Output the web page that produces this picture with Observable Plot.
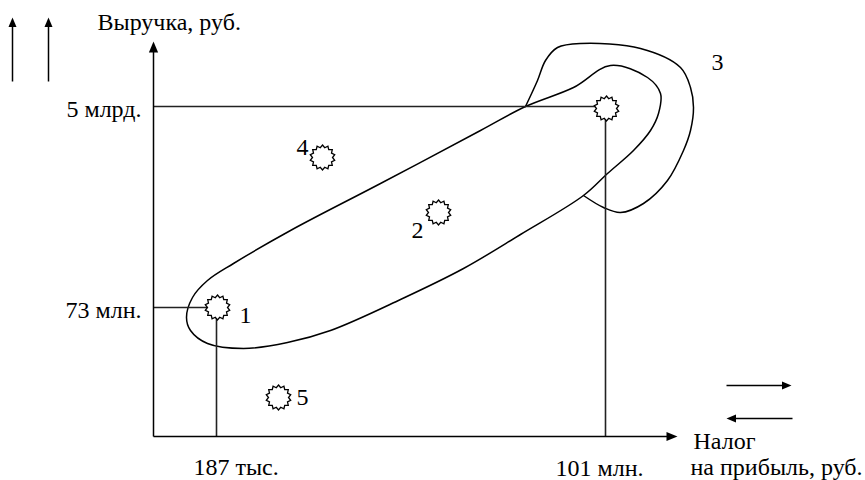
<!DOCTYPE html>
<html>
<head>
<meta charset="utf-8">
<script src="https://cdn.jsdelivr.net/npm/d3@7"></script>
<script src="https://cdn.jsdelivr.net/npm/@observablehq/plot@0.6"></script>
<style>
  svg text, svg tspan { font-family: "Liberation Serif", "Times New Roman", serif !important; }
</style>
</head>
<body style="margin:0;padding:0;background:#fff">
<div id="chart"></div>
<script>
// Schematic diagram units: origin at the axes' crossing, x to the right, y upward.
const xAxisEnd = 524;
const yAxisEnd = 395;

const xTickValues = [63, 452];
const xTickLabels = ["187 тыс.", "101 млн."];
const yTickValues = [129, 330];
const yTickLabels = ["73 млн.", "5 млрд."];

const xAxisTitle = ["Налог", "на прибыль, руб."];
const yAxisTitle = "Выручка, руб.";

// enterprises (stars)
const pointIds = ["1", "2", "3", "4", "5"];
const pointX = [64, 285, 453, 169, 125];
const pointY = [129, 224, 328, 279, 39];
const pointLabels = ["1", "2", "", "4", "5"];

// group 3 contour label
const groupLabel = "3";

// inner elongated loop (closed)
const innerLoopX = [33, 39, 54, 80, 137, 227, 327, 372, 420, 457, 494, 507, 505, 497, 480, 454, 430, 367, 310, 247, 177, 134, 90, 54, 37];
const innerLoopY = [119, 139, 156, 173, 206, 253, 306, 330, 349, 371, 359, 343, 323, 306, 286, 263, 241, 202, 168, 137, 106, 94, 88, 93, 106];

// outer contour of group 3 (open, attached to inner loop)
const outerLoopX = [372, 384, 392, 404, 427, 487, 527, 537, 540, 537, 530, 514, 490, 467, 450, 430];
const outerLoopY = [330, 356, 376, 389, 393, 388, 369, 349, 329, 306, 286, 256, 233, 224, 229, 241];

// direction arrows
const legendUpX = [-141, -105];
const legendUpY = [355, 419];
const legendRightY = 51;
const legendLeftY = 18;
const legendArrowX = [573, 638];

// ---- build tables ----
const innerLoop = innerLoopX.map((x, i) => ({x, y: innerLoopY[i]}));
const outerLoop = outerLoopX.map((x, i) => ({x, y: outerLoopY[i]}));
const points = pointIds.map((id, i) => ({id, x: pointX[i], y: pointY[i], label: pointLabels[i]}));
const labelOffsets = {"1": [28, 8], "2": [-21, 18], "4": [-20, -10], "5": [24, 0]};
const labeled = points.filter(d => d.label);
const star3 = points.find(d => d.id === "3");

const shafts = [
  {x1: 0, y1: 0, x2: 0, y2: yAxisEnd - 6},
  {x1: 0, y1: 0, x2: xAxisEnd - 6, y2: 0},
  ...legendUpX.map(x => ({x1: x, y1: legendUpY[0], x2: x, y2: legendUpY[1] - 6})),
  {x1: legendArrowX[0], y1: legendRightY, x2: legendArrowX[1] - 6, y2: legendRightY},
  {x1: legendArrowX[1] + 1, y1: legendLeftY, x2: legendArrowX[0] + 6, y2: legendLeftY}
];
const bigHeads = [
  {x: 0, y: yAxisEnd, rot: 0},
  {x: xAxisEnd, y: 0, rot: 90}
];
const smallHeads = [
  ...legendUpX.map(x => ({x, y: legendUpY[1], rot: 0})),
  {x: legendArrowX[1], y: legendRightY, rot: 90},
  {x: legendArrowX[0], y: legendLeftY, rot: -90}
];

// guides from axes to the stars 1 and 3
const guides = [
  {x1: 0, y1: yTickValues[0], x2: points[0].x - 8, y2: yTickValues[0]},
  {x1: xTickValues[0], y1: 0, x2: xTickValues[0], y2: points[0].y - 8},
  {x1: 0, y1: yTickValues[1], x2: star3.x - 8, y2: yTickValues[1]},
  {x1: xTickValues[1], y1: 0, x2: xTickValues[1], y2: star3.y - 8}
];

// custom symbols
const starSymbol = {
  draw(ctx, size) {
    const R = Math.sqrt(size / Math.PI);
    const r = R * 0.8;
    const n = 14;
    for (let i = 0; i < 2 * n; i++) {
      const a = (i * Math.PI) / n - Math.PI / 2;
      const rr = i % 2 === 0 ? R : r;
      const px = rr * Math.cos(a), py = rr * Math.sin(a);
      if (i === 0) ctx.moveTo(px, py); else ctx.lineTo(px, py);
    }
    ctx.closePath();
  }
};
const headSymbol = {
  draw(ctx, size) {
    const s = Math.sqrt(size / Math.PI);
    ctx.moveTo(0, 0);
    ctx.lineTo(-0.42 * s, s);
    ctx.lineTo(0.42 * s, s);
    ctx.closePath();
  }
};

const font = "'Liberation Serif', 'Times New Roman', serif";
const fs = 24;
const T = {fontSize: fs, fontFamily: "Liberation Serif", fill: "#000"};

const chart = Plot.plot({
  width: 865,
  height: 480,
  margin: 0,
  x: {domain: [-153, 712], range: [0, 865], axis: null},
  y: {domain: [-44, 436], range: [480, 0], axis: null},
  style: {background: "#fff", color: "#000", overflow: "visible"},
  marks: [
    // contours
    Plot.line(innerLoop, {x: "x", y: "y", curve: "catmull-rom-closed", stroke: "#000", strokeWidth: 1.5}),
    Plot.line(outerLoop, {x: "x", y: "y", curve: "catmull-rom", stroke: "#000", strokeWidth: 1.5}),
    // guides
    Plot.link(guides, {x1: "x1", y1: "y1", x2: "x2", y2: "y2", stroke: "#222", strokeWidth: 1.6}),
    // axes and arrows
    Plot.link(shafts, {x1: "x1", y1: "y1", x2: "x2", y2: "y2", stroke: "#000", strokeWidth: 1.5}),
    Plot.dot(bigHeads, {x: "x", y: "y", r: 11, rotate: "rot", symbol: headSymbol, fill: "#000", stroke: "none"}),
    Plot.dot(smallHeads, {x: "x", y: "y", r: 9.5, rotate: "rot", symbol: headSymbol, fill: "#000", stroke: "none"}),
    // stars
    Plot.dot(points, {x: "x", y: "y", r: 12.5, symbol: starSymbol, fill: "#fff", stroke: "#000", strokeWidth: 1.3}),
    // point labels
    ...labeled.map(d => Plot.text([d], {x: "x", y: "y", text: "label", dx: labelOffsets[d.id][0], dy: labelOffsets[d.id][1], ...T})),
    Plot.text([star3], {x: "x", y: "y", text: () => groupLabel, dx: 111, dy: -46, ...T}),
    // tick labels
    Plot.text(yTickValues, {x: 0, y: d => d, text: (d, i) => yTickLabels[i], textAnchor: "end", dx: -12, dy: 3, ...T}),
    Plot.text([xTickValues[0]], {x: d => d, y: 0, text: () => xTickLabels[0], textAnchor: "start", dx: -23, dy: 31, ...T}),
    Plot.text([xTickValues[1]], {x: d => d, y: 0, text: () => xTickLabels[1], textAnchor: "start", dx: -50, dy: 32, ...T}),
    // axis titles
    Plot.text([yAxisTitle], {x: 0, y: yAxisEnd, text: d => d, textAnchor: "start", dx: -56, dy: -19, ...T}),
    Plot.text([xAxisTitle[0]], {x: xAxisEnd, y: 0, text: d => d, textAnchor: "start", dx: 16, dy: 5, ...T}),
    Plot.text([xAxisTitle[1]], {x: xAxisEnd, y: 0, text: d => d, textAnchor: "start", dx: 13, dy: 31, ...T})
  ]
});
chart.querySelectorAll("text, tspan").forEach(el => el.style.setProperty("font-family", font, "important"));
document.getElementById("chart").appendChild(chart);
</script>
</body>
</html>
